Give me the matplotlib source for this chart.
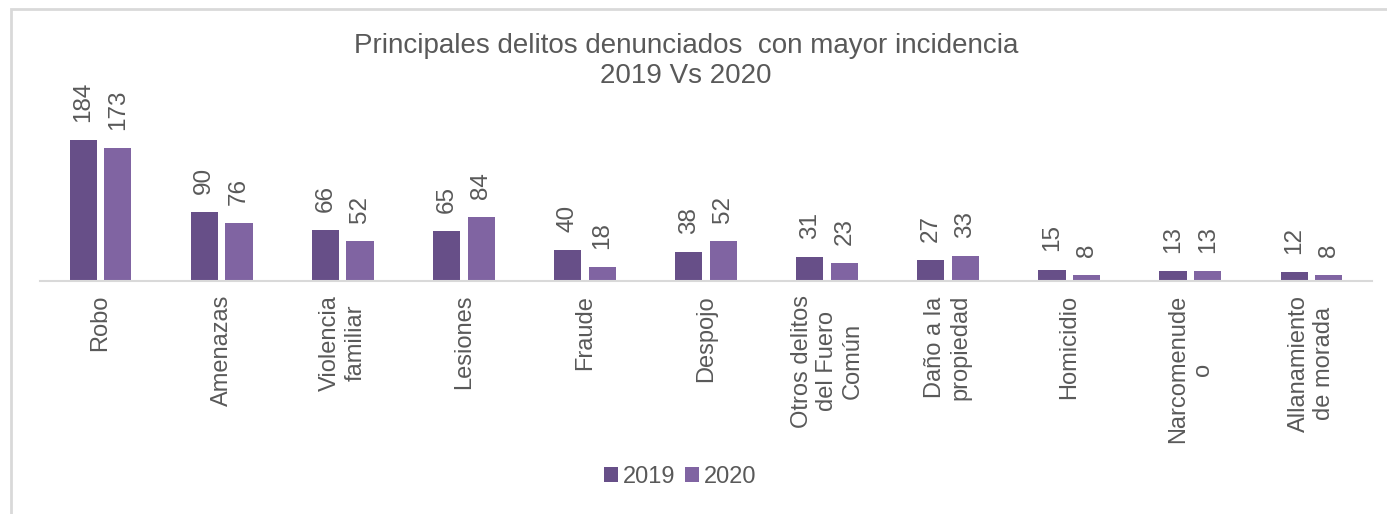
import numpy as np
import matplotlib
matplotlib.use("Agg")
import matplotlib.pyplot as plt
from matplotlib.patches import Rectangle

plt.rcParams["font.family"] = ["Liberation Sans", "DejaVu Sans"]

categories = ["Robo", "Amenazas", "Violencia\nfamiliar", "Lesiones", "Fraude",
              "Despojo", "Otros delitos\ndel Fuero\nComún", "Daño a la\npropiedad",
              "Homicidio", "Narcomenude\no", "Allanamiento\nde morada"]
v2019 = [184, 90, 66, 65, 40, 38, 31, 27, 15, 13, 12]
v2020 = [173, 76, 52, 84, 18, 52, 23, 33, 8, 13, 8]

c2019 = "#674F88"
c2020 = "#8064A2"
txt = "#595959"

W, H = 1387, 514
fig = plt.figure(figsize=(W / 100, H / 100), dpi=100)

# chart frame (only top/left edges visible in the reference)
fig.patches.append(Rectangle((11 / W, -0.1), 1.2, 1 - 9 / H + 0.1, transform=fig.transFigure,
                             fill=False, edgecolor="#d9d9d9", lw=2))

ax_l, ax_r = 40 / W, 1372 / W
ax_b, ax_t = 1 - 281 / H, 1 - 60 / H
ax = fig.add_axes([ax_l, ax_b, ax_r - ax_l, ax_t - ax_b])

x = np.arange(len(categories))
bw = 0.225
off = 0.143
b1 = ax.bar(x - off, v2019, bw, color=c2019, label="2019")
b2 = ax.bar(x + off, v2020, bw, color=c2020, label="2020")

for bars in (b1, b2):
    for r in bars:
        ax.annotate(f"{r.get_height():.0f}", (r.get_x() + r.get_width() / 2, r.get_height()),
                    xytext=(0, 13), textcoords="offset points", rotation=90,
                    ha="center", va="bottom", fontsize=17.5, color=txt)

ax.set_xlim(-0.5, len(categories) - 0.5)
ax.set_ylim(0, 221 / 0.766)
ax.set_yticks([])
ax.set_xticks(x)
ax.set_xticklabels(categories, rotation=90, fontsize=17, color=txt,
                   ha="center", va="top", multialignment="center")
ax.tick_params(axis="x", length=0, pad=10)
for s in ["top", "right", "left"]:
    ax.spines[s].set_visible(False)
ax.spines["bottom"].set_color("#d9d9d9")
ax.spines["bottom"].set_linewidth(1.5)

fig.text(686 / W, 1 - 61 / H, "Principales delitos denunciados  con mayor incidencia\n2019 Vs 2020",
         ha="center", va="center", fontsize=20, color=txt, linespacing=1.2)

fig.legend(handles=[b1, b2], labels=["2019", "2020"], loc="center",
           bbox_to_anchor=(680 / W, 1 - 477 / H), ncol=2, frameon=False,
           fontsize=17, labelcolor=txt, handlelength=0.6, handleheight=0.6,
           handletextpad=0.2, columnspacing=0.4)

fig.savefig("out.png", dpi=100)
